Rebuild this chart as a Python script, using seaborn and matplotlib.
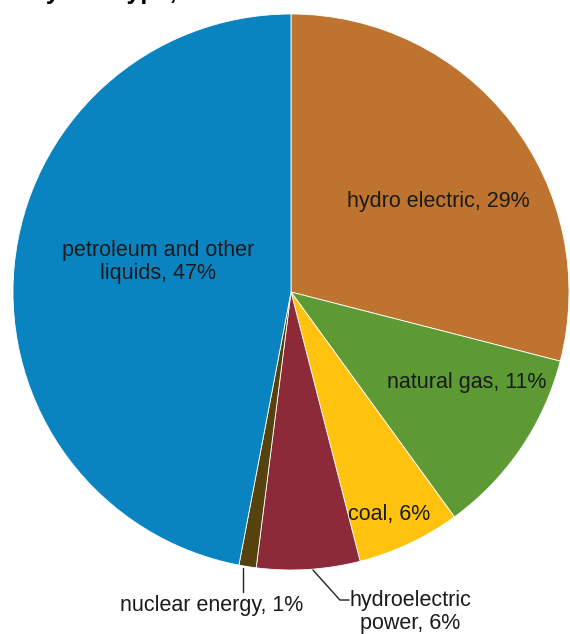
import matplotlib
matplotlib.use("Agg")
import matplotlib.pyplot as plt
import seaborn as sns

# slice data, clockwise from 12 o'clock
labels = ["hydro electric", "natural gas", "coal", "hydroelectric power",
          "nuclear energy", "petroleum and other liquids"]
shares = [29, 11, 6, 6, 1, 47]
colors = ["#BE742E", "#5E9A34", "#FFC20E", "#8C2A3A", "#56420F", "#0A84C0"]

sns.set_style("white")
plt.rcParams['font.family'] = ['Liberation Sans', 'DejaVu Sans']

fig = plt.figure(figsize=(5.7, 6.34), dpi=100)
# pie centre (291, 292) px, radius 278 px
ax = fig.add_axes([13 / 570, (634 - 292 - 278) / 634, 556 / 570, 556 / 634])
ax.pie(shares, colors=colors, startangle=90, counterclock=False, radius=1,
       wedgeprops=dict(edgecolor="white", linewidth=0.6))
ax.set_xlim(-1, 1)
ax.set_ylim(-1, 1)
ax.axis("off")

fs = 15.5
tc = "#1a1a1a"
ax.text(0.529, 0.324, "hydro electric, 29%", ha="center", va="center", fontsize=fs, color=tc)
ax.text(-0.478, 0.108, "petroleum and other\nliquids, 47%", ha="center", va="center",
        fontsize=fs, color=tc, linespacing=1.1)
ax.text(0.633, -0.327, "natural gas, 11%", ha="center", va="center", fontsize=fs, color=tc)
ax.text(0.353, -0.802, "coal, 6%", ha="center", va="center", fontsize=fs, color=tc)

# outside labels with leader lines
ax.text(-0.284, -1.129, "nuclear energy, 1%", ha="center", va="center", fontsize=fs,
        color=tc, clip_on=False)
ax.plot([-0.173, -0.173], [-0.993, -1.079], color="#222222", lw=1, clip_on=False)
ax.text(0.428, -1.151, "hydroelectric\npower, 6%", ha="center", va="center", fontsize=fs,
        color=tc, clip_on=False, linespacing=1.1)
ax.plot([0.079, 0.176, 0.209], [-1.0, -1.108, -1.108], color="#222222", lw=1, clip_on=False)

# title, cut off at the top edge so only the descenders show
fig.text(-0.395, 1.0 + 1 / 634, "Energy consumption by fuel type, 2012", ha="left",
         va="baseline", fontsize=18, fontweight="bold", color="black")

fig.savefig("out.png", dpi=100)
